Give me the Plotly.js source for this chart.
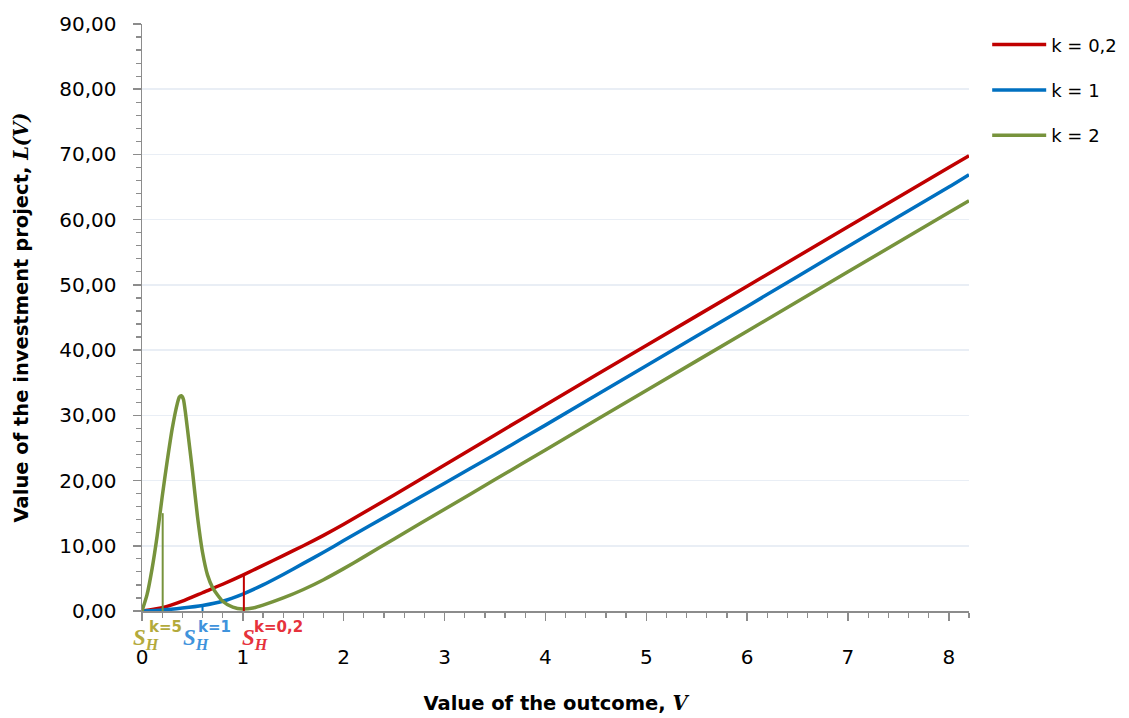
<!DOCTYPE html>
<html>
<head>
<meta charset="utf-8">
<script src="https://cdn.plot.ly/plotly-3.0.1.min.js"></script>
<style>html,body{margin:0;padding:0;background:#fff;}#chart{width:1129px;height:718px;}</style>
</head>
<body>
<div id="chart"></div>
<script>
// ---- data ----
const seriesNames = ["k = 0,2", "k = 1", "k = 2"];
const seriesColors = ["#C00000", "#0070C0", "#77933C"];

const vRed  = [0,0.2,0.4,0.6,0.8,1.0,1.2,1.4,1.6,1.8,2.0,2.5,3,3.5,4,5,6,7,8,8.2];
const lRed  = [0,0.5,1.5,2.8,4.1,5.5,7.0,8.5,10.0,11.6,13.3,17.8,22.4,27.0,31.6,40.7,49.8,58.9,68.0,69.8];

const vBlue = [0,0.2,0.4,0.6,0.8,1.0,1.2,1.4,1.6,1.8,2.0,2.5,3,3.5,4,5,6,7,8,8.2];
const lBlue = [0,0.15,0.45,0.85,1.5,2.6,4.0,5.6,7.3,9.0,10.8,15.2,19.6,24.0,28.5,37.6,46.7,55.9,65.0,66.9];

const vGreen = [0,0.05,0.1,0.15,0.2,0.25,0.3,0.35,0.37,0.39,0.41,0.43,0.45,0.5,0.55,0.6,0.65,0.7,0.8,0.9,1.0,1.1,1.2,1.4,1.6,1.8,2.0,2.2,2.5,3,3.5,4,5,6,7,8,8.2];
const lGreen = [0,2.5,6.5,11.5,17.5,23,28,31.8,32.8,33,32.5,30.5,28,21.5,14.5,9,5.5,3.6,1.5,0.6,0.3,0.45,0.9,2.0,3.3,4.8,6.5,8.3,11.05,15.6,20.15,24.7,33.8,42.9,52.0,61.1,62.9];

// threshold markers S_H (position V, height L)
const markerV = [0.205, 0.60, 1.01];
const markerL = [15.0, 1.0, 5.4];
const markerColors = ["#77933C", "#0070C0", "#C00000"];
const markerSup = ["k=5", "k=1", "k=0,2"];
const markerLabelColors = ["#b3aa3c", "#3f93dc", "#e6323c"];

const xTickVals = [0,1,2,3,4,5,6,7,8];
const yTickVals = [0,10,20,30,40,50,60,70,80,90];

// ---- traces ----
const xs = [vRed, vBlue, vGreen];
const ys = [lRed, lBlue, lGreen];
const traces = [];
for (let i = 0; i < 3; i++) {
  traces.push({
    x: xs[i], y: ys[i], type: "scatter", mode: "lines",
    name: seriesNames[i], legendgroup: "g" + i,
    line: {color: seriesColors[i], width: 3.5, shape: "spline", smoothing: 0.6}
  });
}
for (let i = 0; i < markerV.length; i++) {
  traces.push({
    x: [markerV[i], markerV[i]], y: [0, markerL[i]], type: "scatter", mode: "lines",
    showlegend: false, hoverinfo: "skip",
    line: {color: markerColors[i], width: 2}
  });
}

// ---- annotations for S_H labels (paper positions) ----
const labelSX = [-0.0137, 0.0468, 0.1182];
const labelSupX = [0.0057, 0.0649, 0.1327];
const annotations = [];
for (let i = 0; i < markerV.length; i++) {
  annotations.push({
    x: labelSX[i], y: -0.048, xref: "paper", yref: "paper",
    text: "<b><i>S</i></b><sub><b><i>H</i></b></sub>",
    showarrow: false, xanchor: "left", yanchor: "middle",
    font: {family: "Liberation Serif", size: 23, color: markerLabelColors[i]}
  });
  annotations.push({
    x: labelSupX[i], y: -0.027, xref: "paper", yref: "paper",
    text: "<b>" + markerSup[i] + "</b>",
    showarrow: false, xanchor: "left", yanchor: "middle",
    font: {family: "DejaVu Sans", size: 15, color: markerLabelColors[i]}
  });
}

const layout = {
  width: 1129, height: 718,
  margin: {l: 142, r: 160, t: 24, b: 107, autoexpand: false},
  paper_bgcolor: "#ffffff", plot_bgcolor: "#ffffff",
  separators: ", ",
  showlegend: true,
  legend: {
    x: 1.022, xref: "paper", y: 0.996, yanchor: "top", xanchor: "left",
    font: {family: "DejaVu Sans", size: 18, color: "#000"},
    tracegroupgap: 19, traceorder: "grouped", itemwidth: 54,
    bgcolor: "rgba(0,0,0,0)"
  },
  xaxis: {
    range: [0, 8.2], tickvals: xTickVals, ticktext: xTickVals.map(String),
    showgrid: false, zeroline: false,
    showline: true, linecolor: "#8c8c8c", linewidth: 1.5,
    ticks: "outside", ticklen: 8, tickcolor: "#8c8c8c", tickwidth: 1.5,
    minor: {dtick: 0.2, tick0: 0, ticks: "outside", ticklen: 5, tickcolor: "#8c8c8c", tickwidth: 1.2, showgrid: false},
    ticklabelstandoff: 19,
    tickfont: {family: "DejaVu Sans", size: 20, color: "#000"},
    title: {text: "Value of the outcome, <span style=\"font-family:'DejaVu Serif'\"><i>V</i></span>",
            font: {family: "DejaVu Sans", size: 19.5, color: "#000", weight: "bold"}, standoff: 29}
  },
  yaxis: {
    range: [0, 90], tickvals: yTickVals, tickformat: ".2f",
    showgrid: true, gridcolor: "#e9eef5", gridwidth: 1.5, zeroline: false,
    showline: true, linecolor: "#8c8c8c", linewidth: 1.5,
    ticks: "outside", ticklen: 8, tickcolor: "#8c8c8c", tickwidth: 1.5,
    minor: {dtick: 2, tick0: 0, ticks: "outside", ticklen: 5, tickcolor: "#8c8c8c", tickwidth: 1.2, showgrid: false},
    ticklabelstandoff: 12,
    tickfont: {family: "DejaVu Sans", size: 20, color: "#000"},
    title: {text: "Value of the investment project, <span style=\"font-family:'DejaVu Serif'\"><i>L(V)</i></span>",
            font: {family: "DejaVu Sans", size: 19.5, color: "#000", weight: "bold"}, standoff: 25}
  },
  annotations: annotations
};

Plotly.newPlot("chart", traces, layout, {staticPlot: true, displayModeBar: false});
</script>
</body>
</html>
